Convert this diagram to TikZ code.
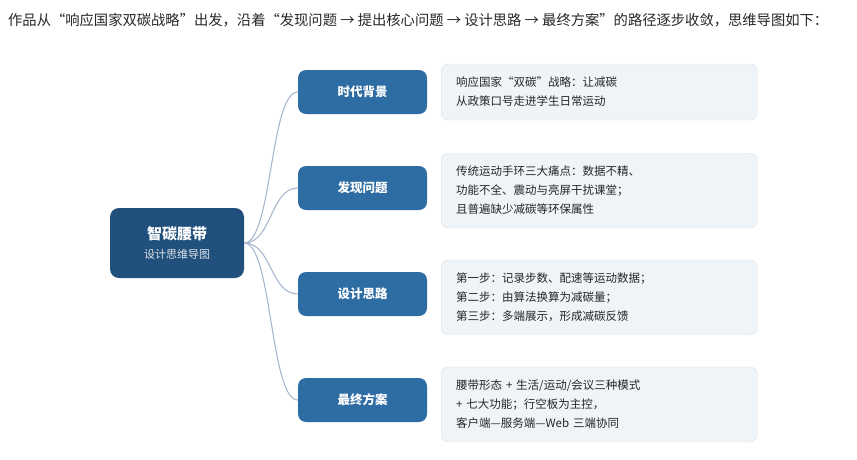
\documentclass[tikz,border=0pt]{standalone}
\usepackage{fontspec}
\setmainfont{Noto Sans CJK SC}
\begin{document}
\begin{tikzpicture}[x=1pt,y=-1pt,
 branch/.style={draw=none,fill=blue1,rounded corners=8pt,minimum width=129pt,minimum height=44pt,text=white,font=\fontsize{12.5}{14}\selectfont\bfseries},
 info/.style={draw=gray!25,fill=bluebg,rounded corners=7pt,minimum width=316pt,anchor=west,inner xsep=15pt,align=left,text=black!85,font=\fontsize{11.5}{19}\selectfont,text width=286pt},
 link/.style={draw=linkc,line width=1.1pt}]
\definecolor{blue1}{HTML}{2E6DA4}
\definecolor{blue0}{HTML}{22507C}
\definecolor{bluebg}{HTML}{EFF4F9}
\definecolor{linkc}{HTML}{A7B8CE}
\useasboundingbox (0,0) rectangle (857,459);
\node[anchor=west,font=\fontsize{14.3}{16}\selectfont,text=black!85,inner xsep=0pt] (t) at (8,20) {作品从“响应国家双碳战略”出发，沿着“发现问题 → 提出核心问题 → 设计思路 → 最终方案”的路径逐步收敛，思维导图如下：};
\node[fill=blue0,rounded corners=9pt,minimum width=134pt,minimum height=70pt,align=center,text=white] (c) at (177,243) {{\fontsize{15}{18}\selectfont\bfseries 智碳腰带}\\[7pt]{\fontsize{11}{13}\selectfont\color{white!85!blue0}设计思维导图}};
\node[branch] (b1) at (362.5,92) {时代背景};
\node[branch] (b2) at (362.5,188) {发现问题};
\node[branch] (b3) at (362.5,294) {设计思路};
\node[branch] (b4) at (362.5,400) {最终方案};
\node[info,minimum height=56pt] (i1) at (441,92) {响应国家“双碳”战略：让减碳\\从政策口号走进学生日常运动};
\node[info,minimum height=75pt] (i2) at (441,190.5) {传统运动手环三大痛点：数据不精、\\功能不全、震动与亮屏干扰课堂；\\且普遍缺少减碳等环保属性};
\node[info,minimum height=75pt] (i3) at (441,297.5) {第一步：记录步数、配速等运动数据；\\第二步：由算法换算为减碳量；\\第三步：多端展示，形成减碳反馈};
\node[info,minimum height=75pt] (i4) at (441,404.5) {腰带形态 + 生活/运动/会议三种模式\\+ 七大功能；行空板为主控，\\客户端—服务端—Web 三端协同};
\foreach \b in {b1,b2,b3,b4}
 \draw[link] (c.east) .. controls (272,243) and (270,0 |- \b.west) .. (\b.west);
\end{tikzpicture}
\end{document}
